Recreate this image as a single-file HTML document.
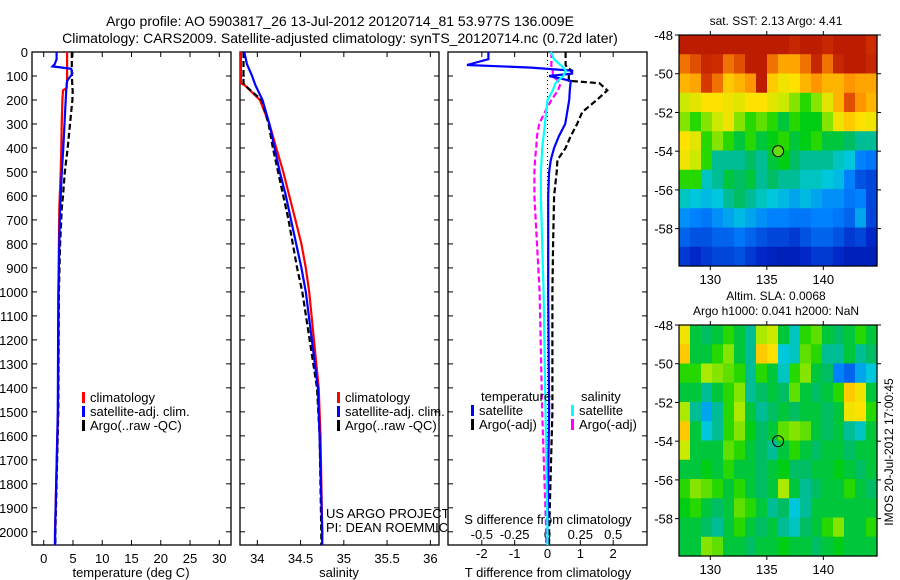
<!DOCTYPE html>
<html><head><meta charset="utf-8"><style>
html,body{margin:0;padding:0;background:#fff;}
svg{display:block;font-family:"Liberation Sans",sans-serif;}
</style></head><body>
<svg id="fig" width="900" height="580" viewBox="0 0 900 580" xmlns="http://www.w3.org/2000/svg">
<text x="340" y="26" font-size="14" text-anchor="middle">Argo profile: AO 5903817_26 13-Jul-2012 20120714_81 53.977S 136.009E</text>
<text x="340" y="43" font-size="14" text-anchor="middle">Climatology: CARS2009. Satellite-adjusted climatology: synTS_20120714.nc (0.72d later)</text>
<text x="776" y="25" font-size="12" text-anchor="middle">sat. SST: 2.13 Argo: 4.41</text>
<text x="776" y="300" font-size="12" text-anchor="middle">Altim. SLA: 0.0068</text>
<text x="776" y="315" font-size="12" text-anchor="middle">Argo h1000: 0.041 h2000: NaN</text>
<text transform="translate(893,452) rotate(-90)" font-size="12" text-anchor="middle">IMOS 20-Jul-2012 17:00:45</text>
<g id="g"></g>
</svg>
<script>
// ---- depth axis data ----
const depthTicks=[0,100,200,300,400,500,600,700,800,900,1000,1100,1200,1300,1400,1500,1600,1700,1800,1900,2000];
// temperature panel
const tDepth=[0,30,50,60,70,90,120,150,160,200,300,400,500,600,650,800,1000,1500,2000,2055];
const tClim=[4.0,4.0,4.0,4.0,4.0,4.0,4.0,3.9,3.3,3.2,3.07,3.0,2.9,2.75,2.67,2.6,2.55,2.44,1.93,1.9];
const tSat=[2.2,2.2,1.9,1.5,4.7,4.9,4.0,3.9,3.85,3.75,3.55,3.35,3.1,2.9,2.8,2.67,2.5,2.4,1.95,1.95];
const tArgo=[4.8,4.8,4.8,4.8,4.8,4.8,4.85,4.9,4.95,4.9,4.5,4.1,3.6,3.3,3.1,2.8,2.6,2.5,2.0,2.0];
const tTicks=[0,5,10,15,20,25,30];
// salinity panel
const sDepth=[0,50,100,130,140,200,300,400,500,600,700,800,900,1000,1400,1600,2000,2055];
const sClim=[33.81,33.81,33.81,33.81,33.86,34.03,34.14,34.22,34.30,34.37,34.44,34.51,34.56,34.60,34.71,34.73,34.75,34.75];
const sSat=[33.85,33.88,33.94,33.97,33.98,34.06,34.14,34.20,34.26,34.33,34.39,34.45,34.51,34.56,34.70,34.72,34.75,34.75];
const sArgo=[33.84,33.84,33.84,33.84,33.86,34.05,34.13,34.18,34.24,34.30,34.36,34.41,34.46,34.52,34.69,34.72,34.74,34.74];
const sTicks=[34,34.5,35,35.5,36];
// difference panel
const dDepth=[0,30,54,65,78,90,100,120,130,160,200,250,300,350,400,450,500,600,800,1000,1500,2000,2055];
const dTSat=[-1.8,-1.8,-2.45,-0.5,0.75,0.75,0.05,0.71,0.7,0.68,0.66,0.6,0.54,0.35,0.2,0.1,0.05,0.02,0.02,0.02,0.05,0.0,0.0];
const dTArgo=[0.55,0.55,0.55,0.6,0.75,0.7,0.65,0.65,1.58,1.82,1.5,1.06,0.9,0.71,0.55,0.3,0.28,0.2,0.17,0.15,0.15,0.05,0.05];
const dSArgo=[0.03,0.03,0.03,0.03,0.04,0.04,0.04,0.08,0.1,0.08,0.03,-0.02,-0.063,-0.08,-0.086,-0.095,-0.1,-0.1,-0.08,-0.06,-0.04,-0.01,-0.01];
const dSSat=[0.026,0.05,0.1,0.12,0.14,0.13,0.12,0.08,0.06,0.04,0.0,-0.01,-0.02,-0.03,-0.04,-0.045,-0.05,-0.05,-0.04,-0.03,-0.015,0.0,0.0];
const dTTicks=[-2,-1,0,1,2];
const dSTicks=[-0.5,-0.25,0,0.25,0.5];
const dSTickLabels=["-0.5","-0.25","0","0.25","0.5"];
// maps
const lonTicks=[130,135,140];
const latTicks=[-48,-50,-52,-54,-56,-58];
const argoLon=[136.0];
const argoLat=[-54.0];
const sstGrid=[
[.95,.95,.95,.95,.95,.95,.95,.95,.95,.95,.93,.95,.95,.93,.95,.95,.95,.92],
[.85,.88,.93,.92,.85,.88,.95,.95,.85,.8,.8,.85,.93,.85,.93,.95,.95,.93],
[.78,.8,.9,.85,.75,.78,.82,.95,.75,.7,.72,.78,.82,.78,.78,.82,.8,.8],
[.65,.68,.72,.72,.7,.68,.72,.72,.68,.65,.6,.55,.6,.68,.78,.88,.82,.78],
[.6,.55,.6,.65,.7,.6,.55,.58,.55,.5,.55,.52,.52,.6,.7,.75,.72,.7],
[.72,.68,.55,.6,.55,.5,.55,.5,.52,.55,.5,.52,.55,.5,.5,.48,.45,.45],
[.7,.65,.55,.45,.45,.45,.48,.45,.5,.52,.48,.45,.45,.45,.42,.4,.3,.28],
[.55,.55,.42,.45,.5,.48,.5,.45,.48,.45,.45,.42,.42,.4,.38,.3,.22,.2],
[.42,.4,.38,.4,.45,.48,.45,.42,.4,.38,.35,.38,.35,.32,.32,.28,.3,.2],
[.32,.3,.28,.32,.35,.38,.35,.32,.3,.3,.28,.28,.3,.3,.28,.25,.35,.2],
[.25,.22,.22,.25,.25,.28,.25,.22,.2,.2,.18,.22,.25,.25,.22,.18,.2,.15],
[.18,.15,.18,.2,.2,.22,.18,.15,.13,.12,.12,.15,.18,.18,.15,.12,.12,.12]];
const slaGrid=[
[.7,.5,.48,.5,.55,.5,.45,.62,.65,.5,.42,.55,.58,.5,.48,.5,.55,.5],
[.75,.5,.5,.55,.6,.5,.45,.75,.72,.4,.42,.58,.55,.45,.45,.5,.45,.48],
[.55,.55,.62,.6,.58,.55,.45,.55,.5,.42,.55,.6,.5,.48,.3,.25,.35,.4],
[.5,.5,.45,.5,.55,.6,.45,.48,.5,.48,.58,.5,.48,.5,.55,.75,.7,.5],
[.62,.45,.35,.45,.55,.62,.5,.45,.48,.5,.48,.5,.5,.48,.5,.7,.72,.55],
[.75,.5,.4,.45,.55,.6,.52,.48,.5,.58,.6,.58,.5,.48,.5,.45,.42,.5],
[.65,.5,.5,.5,.58,.55,.5,.48,.45,.5,.55,.5,.48,.5,.5,.48,.5,.5],
[.5,.5,.52,.5,.55,.5,.5,.48,.5,.52,.48,.48,.5,.5,.52,.5,.48,.5],
[.55,.6,.58,.55,.5,.55,.5,.48,.5,.62,.5,.45,.48,.5,.5,.55,.5,.48],
[.52,.55,.5,.48,.5,.58,.55,.5,.45,.48,.4,.45,.5,.5,.5,.5,.5,.5],
[.5,.5,.48,.45,.5,.55,.5,.48,.5,.45,.42,.48,.5,.55,.6,.5,.5,.55],
[.5,.5,.6,.58,.5,.5,.48,.5,.5,.52,.5,.5,.48,.5,.52,.5,.5,.5]];

const NS='http://www.w3.org/2000/svg';
const G=document.getElementById('g');
function mk(tag,attrs,parent){const e=document.createElementNS(NS,tag);for(const k in attrs)e.setAttribute(k,attrs[k]);(parent||G).appendChild(e);return e;}
function txt(x,y,s,size,anchor,name){const t=mk('text',{x:x,y:y,'font-size':size,'text-anchor':anchor||'middle'});t.textContent=s;


return t;}
const Y0=52,Y1=545,DMAX=2055;
const yD=d=>Y0+(d/DMAX)*(Y1-Y0);
function lin(d0,d1,r0,r1){return v=>r0+(v-d0)/(d1-d0)*(r1-r0);}

function panel(x0,x1,xmin,xmax,ticks,labels,name,showDepthLabels){
  const sx=lin(xmin,xmax,x0,x1);
  const r=mk('rect',{x:x0,y:Y0,width:x1-x0,height:Y1-Y0,fill:'#fff',stroke:'#000','stroke-width':1.3});
  
  
  depthTicks.forEach(d=>{const y=yD(d);
    mk('line',{x1:x0,y1:y,x2:x0+5,y2:y,stroke:'#000'});mk('line',{x1:x1,y1:y,x2:x1-5,y2:y,stroke:'#000'});
    if(showDepthLabels)txt(x0-4,y+5,String(d),13,'end','depth-tick-label');});
  if(ticks)ticks.forEach((v,i)=>{const x=sx(v);
    mk('line',{x1:x,y1:Y0,x2:x,y2:Y0+5,stroke:'#000'});mk('line',{x1:x,y1:Y1,x2:x,y2:Y1-5,stroke:'#000'});
    if(labels)txt(x,563,labels[i],13,'middle',name+'-tick-label');});
  return sx;
}
function series(sx,depths,vals,color,dash,name,w){
  const pts=depths.map((d,i)=>sx(vals[i]).toFixed(1)+','+yD(d).toFixed(1)).join(' ');
  const p=mk('polyline',{points:pts,fill:'none',stroke:color,'stroke-width':w||2.2});
  if(dash)p.setAttribute('stroke-dasharray',dash);
  
  
}
function legend(x,y,items,name){items.forEach((it,i)=>{
  const m=mk('rect',{x:x,y:y+i*14-10,width:3,height:11,fill:it[1]});
  
  
  txt(x+8,y+i*14,it[0],13,'start',name+'-label');});}

// panel 1: temperature
const sxT=panel(32,231,-2,32,tTicks,tTicks.map(String),'temperature-panel',true);
series(sxT,tDepth,tClim,'#ff0000',null,'temperature-climatology-line');
series(sxT,tDepth,tArgo,'#000',"6,3",'temperature-argo-line');
series(sxT,tDepth,tSat,'#0000ff',null,'temperature-satellite-line');
txt(131,577,'temperature (deg C)',13,'middle','temperature-x-axis-title');
legend(82,402,[['climatology','#f00'],['satellite-adj. clim.','#00f'],['Argo(..raw -QC)','#000']],'temperature-legend');

// panel 2: salinity
const sxS=panel(240,439,33.8,36.1,sTicks,sTicks.map(String),'salinity-panel',false);
series(sxS,sDepth,sClim,'#ff0000',null,'salinity-climatology-line');
series(sxS,sDepth,sArgo,'#000',"6,3",'salinity-argo-line');
series(sxS,sDepth,sSat,'#0000ff',null,'salinity-satellite-line');
txt(339,577,'salinity',13,'middle','salinity-x-axis-title');
legend(337,402,[['climatology','#f00'],['satellite-adj. clim.','#00f'],['Argo(..raw -QC)','#000']],'salinity-legend');
txt(326,518,'US ARGO PROJECT',13,'start','project-label');
txt(326,532,'PI: DEAN ROEMMICH',13,'start','pi-label');

// panel 3: differences
const sxD=panel(448,647,-3.03,3.03,dTTicks,null,'difference-panel',false);
const sxDS=lin(-0.7575,0.7575,448,647);
dTTicks.forEach(v=>txt(sxD(v),558,String(v),13,'middle','t-diff-tick-label'));
dSTicks.forEach((v,i)=>txt(sxDS(v),539,dSTickLabels[i],13,'middle','s-diff-tick-label'));
txt(548,524,'S difference from climatology',13,'middle','s-diff-axis-title');
txt(548,577,'T difference from climatology',13,'middle','t-diff-axis-title');
const zl=mk('line',{x1:sxD(0),y1:Y0,x2:sxD(0),y2:Y1,stroke:'#000','stroke-dasharray':'1,3'});


series(sxD,dDepth,dTArgo,'#000',"6,3",'t-diff-argo-line');
series(sxDS,dDepth,dSArgo,'#ff00ff',"6,3",'s-diff-argo-line');
series(sxD,dDepth,dTSat,'#0000ff',null,'t-diff-satellite-line');
series(sxDS,dDepth,dSSat,'#00ffff',null,'s-diff-satellite-line');
txt(481,401,'temperature',13,'start','legend-temperature-header');
txt(581,401,'salinity',13,'start','legend-salinity-header');
legend(471,415,[['satellite','#00f'],['Argo(-adj)','#000']],'t-diff-legend');
legend(571,415,[['satellite','#0ff'],['Argo(-adj)','#f0f']],'s-diff-legend');

// maps
const cmStops=[[0,0,0,130],[0.15,0,40,200],[0.3,0,130,255],[0.4,0,200,220],[0.47,0,185,120],[0.53,0,210,0],[0.63,190,235,0],[0.72,255,225,0],[0.82,255,150,0],[0.9,215,55,0],[1,160,0,0]];
function cmap(v){for(let i=1;i<cmStops.length;i++){const a=cmStops[i-1],b=cmStops[i];
  if(v<=b[0]){const t=(v-a[0])/(b[0]-a[0]);return 'rgb('+[1,2,3].map(k=>Math.round(a[k]+t*(b[k]-a[k]))).join(',')+')';}}
  return 'rgb(160,0,0)';}
function map(y0,y1,grid,name,fill,labY){
  const x0=679,x1=877;
  const sx=lin(127.23,144.75,x0,x1), sy=lin(-48,-58,y0,y0+(y1-y0)*10/11.93);
  const rows=grid.length, cols=grid[0].length, cw=(x1-x0)/cols, ch=(y1-y0)/rows;
  grid.forEach((row,r)=>row.forEach((v,c)=>{
    const cell=mk('rect',{x:(x0+c*cw).toFixed(2),y:(y0+r*ch).toFixed(2),width:(cw+0.6).toFixed(2),height:(ch+0.6).toFixed(2),fill:cmap(v)});
    
    
  }));
  const f=mk('rect',{x:x0,y:y0,width:x1-x0,height:y1-y0,fill:'none',stroke:'#000','stroke-width':1.2});
  
  
  lonTicks.forEach(v=>{const x=sx(v);mk('line',{x1:x,y1:y0,x2:x,y2:y0-4,stroke:'#000'});mk('line',{x1:x,y1:y1,x2:x,y2:y1+4,stroke:'#000'});
    txt(x,labY,String(v),13,'middle',name+'-lon-label');});
  latTicks.forEach(v=>{const y=sy(v);mk('line',{x1:x0,y1:y,x2:x0-4,y2:y,stroke:'#000'});mk('line',{x1:x1,y1:y,x2:x1+4,y2:y,stroke:'#000'});
    txt(673,y+5,String(v),13,'end',name+'-lat-label');});
  argoLon.forEach((lo,i)=>{const m=mk('circle',{cx:sx(lo),cy:sy(argoLat[i]),r:5.5,fill:fill,stroke:'#000','stroke-width':1});
    
    });
}
map(35,266,sstGrid,'sst-map','#66dd11',284);
map(325,556,slaGrid,'sla-map','none',574);
</script>
</body></html>
